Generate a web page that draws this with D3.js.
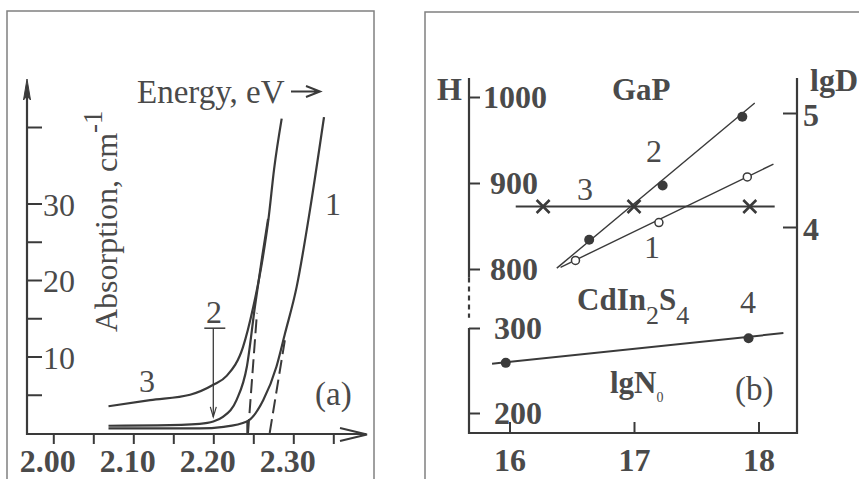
<!DOCTYPE html>
<html><head><meta charset="utf-8">
<script src="https://cdn.jsdelivr.net/npm/d3@7"></script>
<style>
body{margin:0;background:#fff;}
svg{display:block;}
text{font-family:"Liberation Serif","DejaVu Serif",serif;fill:#4a4a4a;}
</style></head><body>
<svg id="c" width="859" height="479"></svg>
<script>
// ---------- DATA : panel (a) ----------
const energyTicks  = [2.00, 2.05, 2.10, 2.15, 2.20, 2.25, 2.30, 2.35];
const energyLabels = ["2.00", "", "2.10", "", "2.20", "", "2.30", ""];
const absTicks  = [5, 10, 15, 20, 25, 30, 40];
const absLabels = ["", "10", "", "20", "", "30", ""];

const curve1E = [2.069, 2.13, 2.183, 2.213, 2.242, 2.2625, 2.279, 2.2896, 2.3042, 2.3209, 2.3384];
const curve1A = [0.6, 0.6, 0.6, 0.8, 1.5, 4.3, 8.7, 13.0, 19.1, 29.2, 41.3];
const curve2E = [2.069, 2.13, 2.183, 2.200, 2.212, 2.229, 2.242, 2.252, 2.261, 2.2685];
const curve2A = [0.95, 1.0, 1.2, 1.5, 2.1, 4.3, 8.7, 16.5, 23.0, 28.0];
const curve3E = [2.069, 2.121, 2.171, 2.200, 2.217, 2.237, 2.250, 2.262, 2.269, 2.276, 2.2855];
const curve3A = [3.5, 4.3, 5.0, 6.3, 7.5, 11.2, 16.5, 23.0, 28.0, 34.5, 41.1];
const fitAE = [2.2434, 2.2546], fitAA = [0, 15.7];     // dashed extrapolation (curves 2,3)
const fitBE = [2.2705, 2.2900], fitBA = [0, 12.5];     // dashed extrapolation (curve 1)
const markerE = [2.2425, 2.2425], markerA = [0, 1.6];  // vertical marker
const arrow2E = 2.20, arrow2Top = 13.7, arrow2Tip = 2.1;

// ---------- DATA : panel (b) ----------
const lgNTicks = [16, 17, 18];
const hTopTicks = [800, 900, 1000];
const hBotTicks = [200, 300];
const lgDTicks = [4, 5];

const s2N = [16.64, 17.23, 17.87], s2H = [834, 897, 977];      // filled dots (2)
const s2LineN = [16.38, 17.97], s2LineH = [801, 993];
const s1N = [16.53, 17.20, 17.91], s1H = [810, 854, 907];      // open circles (1)
const s1LineN = [16.41, 18.12], s1LineH = [802, 922];
const s3N = [16.27, 17.00, 17.93], s3D = [4.18, 4.18, 4.18];   // crosses (3), lgD
const s3LineN = [16.05, 18.13], s3LineD = [4.18, 4.18];
const s4N = [15.97, 17.92], s4H = [259, 288];                  // CdIn2S4 (4)
const s4LineN = [15.86, 18.20], s4LineH = [258, 294];

// ---------- DRAW ----------
const svg = d3.select("#c");
const INK = "#3a3a3a", TXT = "#474747";
const zip = (a, b) => a.map((v, i) => [v, b[i]]);

// frames
svg.append("rect").attr("x", 7).attr("y", 11).attr("width", 367).attr("height", 480)
  .attr("fill", "none").attr("stroke", "#808080").attr("stroke-width", 1.5);
svg.append("rect").attr("x", 425).attr("y", 12).attr("width", 460).attr("height", 480)
  .attr("fill", "none").attr("stroke", "#808080").attr("stroke-width", 1.5);

// ===== panel (a) =====
const xE = d3.scaleLinear().domain([2.0, 2.3]).range([53.3, 293.3]);
const yA = d3.scaleLinear().domain([0, 40]).range([433, 127]);
const a = svg.append("g");

// x axis
const gx = a.append("g").attr("transform", "translate(0,434)")
  .call(d3.axisBottom(xE).tickValues(energyTicks).tickSize(10).tickPadding(0)
    .tickFormat((d, i) => energyLabels[i]));
gx.select(".domain").remove();
gx.selectAll("line").attr("stroke", INK).attr("stroke-width", 2);
gx.selectAll("text").attr("font-size", 32).attr("font-weight", "bold").attr("fill", TXT)
  .attr("font-family", "Liberation Serif").attr("dy", null).attr("y", 38).attr("x", -6);
a.append("line").attr("x1", 26).attr("x2", 366).attr("y1", 434).attr("y2", 434)
  .attr("stroke", INK).attr("stroke-width", 2.2);
a.append("path").attr("d", "M340,428 L367,434.5 L340,441").attr("fill", "none")
  .attr("stroke", INK).attr("stroke-width", 2);

// y axis
const gy = a.append("g").attr("transform", "translate(27,0)")
  .call(d3.axisRight(yA).tickValues(absTicks).tickSize(15).tickPadding(1)
    .tickFormat((d, i) => absLabels[i]));
gy.select(".domain").remove();
gy.selectAll("line").attr("stroke", INK).attr("stroke-width", 2);
gy.selectAll("text").attr("font-size", 32).attr("fill", TXT).attr("font-family", "Liberation Serif")
  .attr("dy", "0.36em");
a.append("line").attr("x1", 27).attr("x2", 27).attr("y1", 435).attr("y2", 90)
  .attr("stroke", INK).attr("stroke-width", 2.2);
a.append("path").attr("d", "M27,79 L30.5,100 L27,96 L23.5,100 Z").attr("fill", INK)
  .attr("stroke", INK).attr("stroke-width", 1);

// curves
const lineA = d3.line().x(d => xE(d[0])).y(d => yA(d[1])).curve(d3.curveMonotoneX);
const lineS = d3.line().x(d => xE(d[0])).y(d => yA(d[1]));
[[curve1E, curve1A], [curve2E, curve2A], [curve3E, curve3A]].forEach(([e, v]) => {
  a.append("path").attr("d", lineA(zip(e, v))).attr("fill", "none")
    .attr("stroke", INK).attr("stroke-width", 2.2);
});
[[fitAE, fitAA], [fitBE, fitBA]].forEach(([e, v]) => {
  a.append("path").attr("d", lineS(zip(e, v))).attr("fill", "none")
    .attr("stroke", INK).attr("stroke-width", 2).attr("stroke-dasharray", "14,6");
});
a.append("path").attr("d", lineS(zip(markerE, markerA))).attr("stroke", INK).attr("stroke-width", 2);

// arrow "2"
const ax2 = xE(arrow2E);
a.append("line").attr("x1", ax2).attr("x2", ax2).attr("y1", yA(arrow2Top)).attr("y2", yA(arrow2Tip))
  .attr("stroke", INK).attr("stroke-width", 1.3);
a.append("line").attr("x1", ax2 - 9).attr("x2", ax2 + 12).attr("y1", yA(arrow2Top)).attr("y2", yA(arrow2Top))
  .attr("stroke", INK).attr("stroke-width", 1.5);
a.append("path").attr("d", `M${ax2 - 3},${yA(arrow2Tip) - 10} L${ax2},${yA(arrow2Tip)} L${ax2 + 3},${yA(arrow2Tip) - 10}`)
  .attr("fill", "none").attr("stroke", INK).attr("stroke-width", 1.2);

// texts (a)
const t = (g, x, y, s, o = {}) => g.append("text").attr("x", x).attr("y", y).text(s)
  .attr("font-size", o.size || 32).attr("font-weight", o.bold ? "bold" : null)
  .attr("text-anchor", o.anchor || "start");
t(a, 137, 103, "Energy, eV", { size: 33 });
a.append("path").attr("d", "M291,91.5 L319,91.5 M306,86 L320,91.5 L306,97").attr("fill", "none")
  .attr("stroke", INK).attr("stroke-width", 2);
const yl = a.append("text").attr("transform", "translate(117,332) rotate(-90)").attr("font-size", 32);
yl.append("tspan").text("Absorption, cm");
yl.append("tspan").text("-1").attr("font-size", 27).attr("dy", -15);
t(a, 333, 215, "1", { anchor: "middle" });
t(a, 214, 323, "2", { anchor: "middle" });
t(a, 147, 392, "3", { anchor: "middle" });
t(a, 315, 405, "(a)", { size: 33 });

// ===== panel (b) =====
const b = svg.append("g");
const L = 469, R = 797, T = 78, B = 433;
const xN = d3.scaleLinear().domain([16, 18]).range([509.5, 758.5]);
const yHt = d3.scaleLinear().domain([800, 1000]).range([269, 97]);
const yHb = d3.scaleLinear().domain([200, 300]).range([413, 328]);
const yD = d3.scaleLinear().domain([4, 5]).range([227, 113]);

// frame lines
b.append("path").attr("d", `M${L},${T} V${yHt(790)}`).attr("stroke", INK).attr("stroke-width", 2.2);
b.append("path").attr("d", `M${L},${yHt(790)} V${yHb(312)}`).attr("stroke", INK).attr("stroke-width", 2.2)
  .attr("stroke-dasharray", "5,4");
b.append("path").attr("d", `M${L},${yHb(300)} V${B} H${R} V${T}`).attr("fill", "none")
  .attr("stroke", INK).attr("stroke-width", 2.2);

const styleAxis = (g) => { g.select(".domain").remove();
  g.selectAll("line").attr("stroke", INK).attr("stroke-width", 2);
  g.selectAll("text").attr("font-size", 32).attr("font-weight", "bold").attr("fill", TXT)
    .attr("font-family", "Liberation Serif"); };

const gHt = b.append("g").attr("transform", `translate(${L},0)`)
  .call(d3.axisRight(yHt).tickValues(hTopTicks).tickSize(11).tickFormat(d3.format("d")));
styleAxis(gHt);
gHt.selectAll("text").attr("x", d => d >= 1000 ? 14 : 21).attr("dy", "0.34em");
const gHb = b.append("g").attr("transform", `translate(${L},0)`)
  .call(d3.axisRight(yHb).tickValues(hBotTicks).tickSize(11).tickFormat(d3.format("d")));
styleAxis(gHb);
gHb.selectAll("text").attr("x", 25).attr("dy", "0.34em");
const gD = b.append("g").attr("transform", `translate(${R},0)`)
  .call(d3.axisLeft(yD).tickValues(lgDTicks).tickSize(14).tickFormat(d3.format("d")));
styleAxis(gD);
gD.selectAll("text").attr("x", 6).attr("text-anchor", "start").attr("dy", "0.4em");
const gN = b.append("g").attr("transform", `translate(0,${B})`)
  .call(d3.axisBottom(xN).tickValues(lgNTicks).tickSize(-11).tickFormat(d3.format("d")));
styleAxis(gN);
gN.selectAll("text").attr("y", 38).attr("dy", null);

// series lines
const lH = d3.line().x(d => xN(d[0])).y(d => yHt(d[1]));
const lHb = d3.line().x(d => xN(d[0])).y(d => yHb(d[1]));
const lD = d3.line().x(d => xN(d[0])).y(d => yD(d[1]));
b.append("path").attr("d", lH(zip(s2LineN, s2LineH))).attr("stroke", INK).attr("stroke-width", 1.4);
b.append("path").attr("d", lH(zip(s1LineN, s1LineH))).attr("stroke", INK).attr("stroke-width", 1.4);
b.append("path").attr("d", lD(zip(s3LineN, s3LineD))).attr("stroke", INK).attr("stroke-width", 2);
b.append("path").attr("d", lHb(zip(s4LineN, s4LineH))).attr("stroke", INK).attr("stroke-width", 2);

// markers
b.selectAll(".m2").data(zip(s2N, s2H)).join("circle").attr("cx", d => xN(d[0])).attr("cy", d => yHt(d[1]))
  .attr("r", 5).attr("fill", INK);
b.selectAll(".m1").data(zip(s1N, s1H)).join("circle").attr("cx", d => xN(d[0])).attr("cy", d => yHt(d[1]))
  .attr("r", 4).attr("fill", "#fff").attr("stroke", INK).attr("stroke-width", 1.5);
b.selectAll(".m4").data(zip(s4N, s4H)).join("circle").attr("cx", d => xN(d[0])).attr("cy", d => yHb(d[1]))
  .attr("r", 5).attr("fill", INK);
b.selectAll(".m3").data(zip(s3N, s3D)).join("path")
  .attr("d", d => { const x = xN(d[0]), y = yD(d[1]), s = 6.5;
    return `M${x - s},${y - s} L${x + s},${y + s} M${x - s},${y + s} L${x + s},${y - s}`; })
  .attr("stroke", INK).attr("stroke-width", 2.6);

// texts (b)
t(b, 437, 100, "H", { bold: true });
t(b, 810, 91, "lgD", { bold: true });
t(b, 612, 100, "GaP", { bold: true, size: 31 });
t(b, 654, 162, "2", { anchor: "middle" });
t(b, 585, 200, "3", { anchor: "middle" });
t(b, 652, 258, "1", { anchor: "middle" });
t(b, 748, 313, "4", { anchor: "middle" });
const cd = b.append("text").attr("x", 577).attr("y", 310).attr("font-size", 31).attr("font-weight", "bold");
cd.append("tspan").text("CdIn");
cd.append("tspan").text("2").attr("font-weight", "normal").attr("font-size", 26).attr("dy", 14);
cd.append("tspan").text("S").attr("dy", -14);
cd.append("tspan").text("4").attr("font-weight", "normal").attr("font-size", 26).attr("dy", 14);
const ln = b.append("text").attr("x", 610).attr("y", 393).attr("font-size", 31).attr("font-weight", "bold");
ln.append("tspan").text("lgN");
ln.append("tspan").text("0").attr("font-weight", "normal").attr("font-size", 14).attr("dy", 9);
t(b, 735, 400, "(b)", { size: 33 });
</script></body></html>
